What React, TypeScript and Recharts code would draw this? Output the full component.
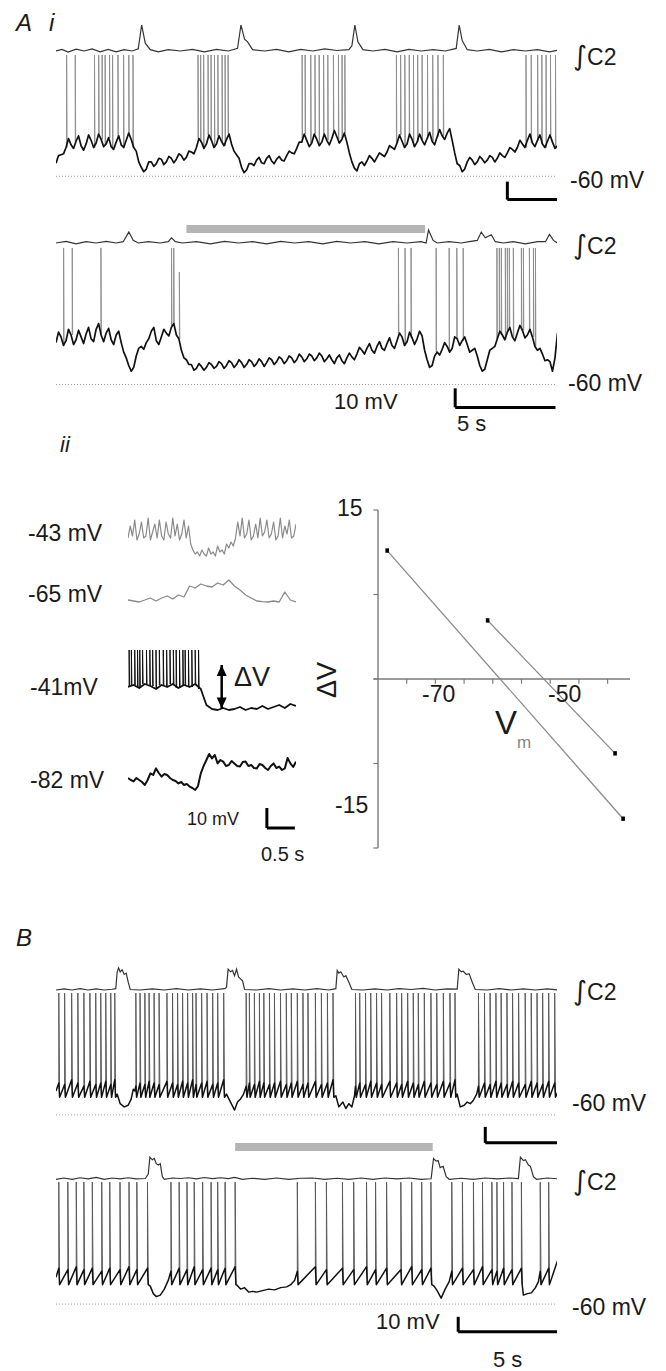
import React from 'react';
import { ComposedChart, Line, XAxis, YAxis, ReferenceLine, ReferenceArea } from 'recharts';

const FONT = '"Liberation Sans", Arial, Helvetica, sans-serif';

// ================= DATA =================
// Panel A i, top record: membrane potential (mV) sampled every 0.125 s
const DT = 0.125;
const a1Vm = [
  -52.8, -48.5, -48, -47.5, -44, -39, -42.5, -44.5, -40.5, -37.5,
  -43, -45.5, -42, -37, -40, -44, -41.5, -36.5, -39.5, -43.5,
  -42, -38.5, -43.5, -45, -41, -37.5, -42.5, -44, -40, -36,
  -39.5, -44, -46, -52, -55, -57.5, -56, -52, -52, -54.5,
  -53, -50, -50.5, -53.5, -52, -49, -50, -52.5, -50.5, -47.5,
  -48.5, -51, -49.5, -46, -46.5, -47.5, -44, -39, -41, -44.5,
  -42, -37, -40, -44, -42, -37.5, -40.5, -43, -39.5, -36.5,
  -42, -46, -48, -50, -55, -58, -56.5, -53, -53, -54,
  -51, -49.5, -52.5, -53, -50, -48.5, -51.5, -53, -50.5, -49,
  -51, -51.5, -48.5, -46, -47, -47.5, -44.5, -41, -41, -36.5,
  -40, -43.5, -41.5, -36.5, -39.5, -43, -41, -36.5, -40, -42.5,
  -39, -34.5, -38, -41.5, -39.5, -36, -41, -47, -52, -55.5,
  -57, -53, -52, -54, -51.5, -48.5, -50, -52, -49.5, -47,
  -48, -49, -46.5, -43, -44, -45, -41.5, -37, -40.5, -44,
  -42, -36.5, -39.5, -43.5, -41, -36.5, -40, -42.5, -39, -35.5,
  -40.5, -42.5, -38, -34, -37.5, -39.5, -36, -33.5, -40, -47,
  -53, -54, -57.5, -56, -52, -49.5, -51, -53.5, -52, -49,
  -50.5, -52.5, -51, -48.5, -49.5, -52, -50, -47, -48.5, -49.5,
  -47, -44, -45, -46.5, -44, -40, -42, -44, -40, -36.5,
  -41.5, -43.5, -40, -37, -42, -44, -40.5, -37, -41, -44.5,
  -43,
];
const a1Spikes = [
  0.53, 0.96, 1.92, 2.13, 2.3, 2.45, 2.67, 2.82, 3.09, 3.37, 3.63, 3.84,
  7.08, 7.21, 7.36, 7.58, 7.73, 7.9, 8.07, 8.28, 8.43, 8.58,
  12.27, 12.42, 12.7, 12.91, 13.12, 13.34, 13.55, 13.83, 14.08, 14.26, 14.4,
  16.97, 17.18, 17.39, 17.61, 17.82, 18.03, 18.25, 18.52, 18.78, 19.04, 19.31,
  23.43, 23.69, 24.01, 24.22, 24.43, 24.65, 24.9,
];
const a1SpikePeak = [7.5];
const a1C2 = [
  [0, 0], [0.3, 0.06], [0.6, -0.04], [1, 0.07], [1.4, 0], [1.8, 0.08], [2.2, -0.03], [2.6, 0.06], [3, -0.03], [3.4, 0.05],
  [3.8, 0], [4.1, 0.08], [4.27, 1.0], [4.45, 0.3], [4.7, 0.05], [5.1, -0.03], [5.6, 0.05], [6.2, 0], [6.8, 0.06], [7.4, -0.03],
  [8, 0.06], [8.6, 0], [9.05, 0.1], [9.22, 1.0], [9.4, 0.45], [9.55, 0.35], [9.8, 0.05], [10.4, 0], [11, 0.06], [11.6, -0.03],
  [12.2, 0.06], [12.8, 0], [13.4, 0.08], [14, 0.02], [14.6, 0.05], [14.75, 0.2], [14.9, 1.0], [15.05, 0.35], [15.3, 0.05], [15.8, 0],
  [16.4, 0.06], [17, -0.03], [17.6, 0.06], [18.2, 0], [18.8, 0.05], [19.4, 0], [19.95, 0.1], [20.1, 1.0], [20.25, 0.4], [20.5, 0.05],
  [21, 0], [21.6, 0.06], [22.2, -0.03], [22.8, 0.05], [23.4, 0], [24, 0.05], [24.6, -0.03], [25, 0.03],
];
const a1ScaleBar = [22.5, -73, 2.6, 10]; // t, mV, length s, length mV

// Panel A i, bottom record (with drug bar), sampled every 0.125 s
const a2Vm = [
  -38, -32.5, -35, -39.5, -37, -31, -34, -39, -36.5, -31.5,
  -35, -38.5, -33.5, -30, -36, -37.5, -31, -28, -34, -37.5,
  -33, -30.5, -36.5, -39, -34, -32, -38, -43, -46, -50,
  -53, -51, -45, -41, -40, -41.5, -38, -36, -32, -30,
  -37, -39, -35, -31, -33, -34.5, -30, -28, -34, -36,
  -42, -46, -47, -49.5, -49.5, -52.5, -51.5, -49, -50.5, -52.5,
  -51, -48.5, -49.5, -51.5, -50.5, -48, -49, -51.5, -50, -47.5,
  -48.5, -51, -49.5, -47, -48.5, -51, -49.5, -47, -48, -50.5,
  -49, -46.5, -48, -50.5, -48.5, -46, -47, -49.5, -48, -45.5,
  -46.5, -49, -47.5, -45, -46, -48.5, -47, -44, -45.5, -48,
  -46.5, -44, -45, -47.5, -46, -43.5, -45, -48, -46.5, -44.5,
  -47, -49, -46, -44.5, -47.5, -49, -46, -43.5, -45.5, -47,
  -44, -40.5, -42, -44, -41, -38.5, -42, -43.5, -40, -37.5,
  -41, -42, -38.5, -35.5, -39.5, -41, -37, -33, -35, -39.5,
  -37.5, -32.5, -35.5, -39, -36, -32, -34.5, -42, -47, -51,
  -50, -45, -43, -44.5, -41.5, -38, -40, -43, -41, -35,
  -36, -39.5, -37, -35, -39, -43, -42, -41, -45, -50,
  -53, -52, -47, -42, -41, -40, -36, -32, -34, -36.5,
  -32.5, -30, -35, -37, -33, -29, -31.5, -35.5, -34, -31,
  -35, -40, -42, -41, -44, -47.5, -47, -48, -53, -46,
  -33,
];
const a2Spikes = [
  0.38, 0.81, 2.24, 5.76, 5.87, 17.07, 17.4, 17.7, 18.95, 19.6, 19.98, 20.3,
  21.98, 22.1, 22.2, 22.4, 22.5, 22.6, 22.8, 23.2, 23.3, 23.6, 23.8, 23.9,
];
const a2SpikePeak = [11.7];
const a2ShortSpikes = [6.15];
const a2ShortPeak = [-1];
const a2C2 = [
  [0, 0], [0.5, 0.06], [1, -0.03], [1.5, 0.05], [2, 0], [2.5, 0.06], [3, 0], [3.35, 0.05], [3.63, 0.42], [3.85, 0.1],
  [4.1, 0], [4.6, 0.05], [5.2, 0], [5.6, 0.05], [5.76, 0.2], [5.95, 0.05], [6.3, 0], [7, 0.05], [7.7, -0.03], [8.4, 0.06],
  [9.1, 0], [9.8, 0.05], [10.5, -0.03], [11.2, 0.06], [11.9, 0], [12.6, 0.05], [13.3, -0.03], [14, 0.06], [14.7, 0], [15.4, 0.05],
  [16.1, -0.03], [16.8, 0.05], [17.5, 0], [18.2, 0.05], [18.45, 0], [18.57, 0.5], [18.8, 0.1], [19, 0], [19.6, 0.05], [20.2, 0],
  [20.6, 0.05], [21, 0.1], [21.2, 0.42], [21.4, 0.2], [21.7, 0.32], [21.9, 0.05], [22.3, 0], [22.8, 0.05], [23.4, -0.03], [24, 0.05],
  [24.4, 0.05], [24.6, 0.33], [24.8, 0.1], [25, 0],
];
const a2DrugBar = [6.5, 18.4, 19.5, 23.8]; // t start, t end, mV low, mV high
const a2ScaleBar = [19.9, -72, 5, 10];

// Panel A ii: small traces (mV relative to holding level)
const s43Vm = [
  0, 6, 1, 9, -1, 2, 8, 0, 1, 10, -1, 3, 7, 0, 9, 1, -1, 8, 2, 0, 10, 1, 7, -1, 2, 9, 0, 6,
  -3, -6, -8, -7, -9, -6, -8, -9, -5, -8, -7, -9, -4, -7, -6, -8, -3, -5, -2, -4,
  0, 8, 1, 10, 0, 2, 9, -1, 1, 7, 0, 10, 1, 3, 9, 0, 2, 8, -1, 1, 10, 0, 6, 2, 9, 0, 1, 7,
];
const s65Vm = [
  -1, -1.5, -2, -1, 0, -1.5, 0, 1, -0.5, 1.5, 0.5, 6, 5, 7, 6, 5.5, 7.5, 6.5, 9, 6, 4, 1.5, 0, -1.5, -1.8, -2, -1.5, -2, 3, -1, -2,
];
const s41Base = [
  0, 1, -0.5, 1.5, 0.5, -1, 1, 0, 1.5, -0.5, 1, 0, 1.5, -1, -9, -11, -11.5, -10.5, -11.5, -11, -10, -11.5, -10.5, -11, -9.5, -11, -10, -9, -10.5, -8.5, -9.5,
];
const s41Spikes = [
  0.02, 0.06, 0.12, 0.17, 0.21, 0.26, 0.33, 0.39, 0.44, 0.5, 0.56, 0.63, 0.69, 0.75, 0.81, 0.86, 0.92, 0.98, 1.02, 1.08, 1.14, 1.2, 1.26,
];
const s41SpikePeak = [18.5];
const s82Vm = [
  0, -1, -1.7, 0, -1, -2, -3.5, -1, 2.3, 1.5, 4.8, 2.5, 0.7, 2, 1.5, 0, -1, -1.5, -2.7, -2, -3.5,
  -3, -4.3, -5, -6, -4, 2.3, 6, 9, 12, 9.8, 11.5, 7.3, 9, 8.2, 6, 6.5, 8.5, 7.3, 6, 5.7,
  8, 8.2, 6, 6.5, 5, 4.8, 7, 6.5, 5, 4, 6, 7.3, 5, 5.7, 4, 4.8, 10, 7.3, 5.5, 8.2,
];
const deltaVArrow = [[1.673, 11], [1.673, -10.7]];
const smallScaleBar = [2.48, -25, 0.5, 10];

// Panel A ii: ΔV versus Vm
const ivVm1 = [-83.4, -42.3];
const ivDv1 = [11.4, -12.4];
const ivVm2 = [-65.9, -43.7];
const ivDv2 = [5.2, -6.6];
const ivXTicks = [-80, -75, -70, -65, -60, -55, -50, -45];
const ivYTicks = [15, 7.5, 0, -7.5, -15];
const ivAxisOrigin = [-85, -15, 15]; // y axis at Vm, from ΔV, to ΔV

// Panel B, top record: spikes [time s, foot mV]
const b1Spikes = [
  [0.14, -40], [0.43, -41], [0.78, -38], [1.09, -40], [1.39, -42], [1.69, -39], [1.98, -41], [2.23, -40], [2.48, -39], [2.73, -41], [2.93, -38],
  [3.98, -42], [4.19, -40], [4.43, -41], [4.64, -39], [4.89, -40], [5.14, -41], [5.53, -39], [5.81, -40], [6.06, -41], [6.31, -39], [6.56, -40],
  [6.81, -38], [6.98, -41], [7.26, -40], [7.53, -39], [7.81, -41], [8.06, -40], [8.36, -38],
  [9.48, -42], [9.64, -40], [9.89, -41], [10.14, -39], [10.36, -40], [10.64, -41], [10.89, -40], [11.19, -39], [11.48, -41], [11.73, -40],
  [12.03, -39], [12.31, -41], [12.56, -40], [12.93, -39], [13.23, -41], [13.53, -40], [13.81, -38],
  [14.93, -42], [15.14, -40], [15.43, -41], [15.69, -39], [15.98, -40], [16.23, -41], [16.64, -39], [16.98, -40], [17.23, -41], [17.53, -39],
  [17.81, -40], [18.06, -41], [18.36, -39], [18.69, -40], [18.98, -41], [19.31, -39], [19.64, -40], [19.89, -38],
  [21.06, -42], [21.36, -40], [21.64, -41], [21.93, -39], [22.19, -40], [22.48, -41], [22.76, -39], [23.06, -40], [23.39, -41], [23.69, -39],
  [23.98, -40], [24.26, -41], [24.56, -39], [24.86, -40],
];
const b1Levels = [16.3, -49]; // spike peak, after-hyperpolarisation trough
const b1Gaps = [
  [0, -45], [3.05, -47], [3.2, -53], [3.4, -55], [3.6, -54], [3.75, -50], [3.85, -44], [3.93, -45],
  [8.5, -47], [8.7, -52], [8.9, -57], [9.05, -52], [9.2, -50], [9.35, -47],
  [13.95, -48], [14.1, -55], [14.3, -52], [14.45, -56], [14.6, -53], [14.75, -55], [14.88, -48],
  [20.0, -47], [20.15, -55], [20.35, -54], [20.5, -52], [20.65, -53], [20.8, -51], [20.97, -47], [25, -46],
];
const b1C2 = [
  [0, 0], [0.4, 0.04], [0.8, 0], [1.2, 0.05], [1.6, 0], [2, 0.04], [2.4, 0], [2.8, 0.03], [2.98, 0.05], [3.05, 0.7],
  [3.12, 0.85], [3.2, 0.7], [3.3, 0.78], [3.4, 0.6], [3.5, 0.65], [3.6, 0.3], [3.7, 0.02], [4.2, 0], [4.8, 0.04], [5.4, 0],
  [6, 0.05], [6.6, 0], [7.2, 0.04], [7.8, 0], [8.4, 0.05], [8.5, 0.1], [8.58, 0.8], [8.7, 0.7], [8.8, 0.75], [8.9, 0.55],
  [9.0, 0.8], [9.1, 0.5], [9.3, 0.35], [9.4, 0.02], [10, 0], [10.6, 0.05], [11.2, 0], [11.8, 0.04], [12.4, 0], [13, 0.05],
  [13.6, 0], [13.95, 0.05], [14.02, 0.75], [14.1, 0.65], [14.2, 0.7], [14.35, 0.5], [14.45, 0.55], [14.6, 0.3], [14.75, 0.02], [15.3, 0],
  [15.9, 0.04], [16.5, 0], [17.1, 0.05], [17.7, 0.02], [18.3, 0.06], [18.9, 0], [19.5, 0.04], [20.0, 0.03], [20.08, 0.8], [20.2, 0.7],
  [20.3, 0.72], [20.45, 0.6], [20.6, 0.62], [20.75, 0.3], [20.9, 0.02], [21.5, 0], [22.1, 0.05], [22.7, 0], [23.3, 0.04], [23.9, 0],
  [24.5, 0.04], [25, 0],
];
const b1ScaleBar = [21.4, -77.5, 3.65, 10];

// Panel B, bottom record (with drug bar)
const b2Spikes = [
  [0.14, -36], [0.59, -37], [1.01, -35], [1.39, -37], [1.81, -36], [2.28, -38], [2.68, -36], [3.19, -37], [3.64, -35], [4.03, -37], [4.56, -36],
  [5.73, -38], [6.14, -36], [6.53, -37], [6.89, -35], [7.31, -37], [7.73, -36], [8.06, -37], [8.43, -36], [8.93, -35],
  [12.03, -38], [12.93, -35], [13.48, -37], [14.28, -36], [14.84, -37], [15.48, -35], [15.93, -37], [16.48, -36], [17.19, -37], [17.73, -35],
  [18.23, -37], [18.69, -36],
  [19.73, -38], [20.26, -36], [20.81, -37], [21.26, -35], [21.73, -37], [21.98, -38], [22.31, -36], [22.73, -37], [23.2, -36],
  [24.14, -38], [24.56, -36],
];
const b2Levels = [21.5, -47];
const b2Gaps = [
  [0, -42], [4.7, -48], [4.85, -53], [5.0, -55], [5.2, -54], [5.4, -50], [5.6, -44],
  [9.0, -47], [9.2, -50], [9.4, -49], [9.6, -52], [9.8, -51.5], [10.0, -52], [10.3, -51], [10.6, -50], [10.9, -50.5], [11.2, -49],
  [11.5, -48.5], [11.7, -47], [11.9, -44],
  [18.85, -48], [19.0, -51], [19.2, -56], [19.4, -50], [19.6, -45],
  [23.3, -54], [23.5, -53], [23.7, -52.5], [23.9, -49], [24.05, -45], [25, -31],
];
const b2C2 = [
  [0, 0], [0.4, 0.05], [0.8, 0], [1.2, 0.06], [1.6, 0.02], [2, 0.07], [2.4, 0], [2.8, 0.05], [3.2, 0.02], [3.6, 0.06],
  [4, 0.02], [4.45, 0.03], [4.6, 0.2], [4.68, 0.85], [4.8, 0.75], [4.9, 0.8], [5.0, 0.6], [5.1, 0.55], [5.2, 0.6], [5.3, 0.1],
  [5.4, 0], [5.8, 0.05], [6.2, 0.03], [6.6, 0.06], [7, 0.02], [7.4, 0.07], [7.8, 0.03], [8.2, 0.06], [8.6, 0.03], [8.9, 0.07],
  [9.3, 0], [9.8, 0.04], [10.4, 0], [11, 0.05], [11.6, 0], [12.2, 0.04], [12.8, 0.05], [13.4, 0], [14, 0.04], [14.6, 0],
  [15.2, 0.05], [15.8, 0], [16.4, 0.05], [17, 0.02], [17.6, 0.05], [18.2, 0], [18.7, 0.02], [18.82, 0.8], [18.95, 0.7], [19.05, 0.72],
  [19.15, 0.45], [19.3, 0.5], [19.45, 0.1], [19.6, 0], [20.2, 0.04], [20.8, 0], [21.4, 0.05], [22, 0.02], [22.6, 0.05], [23.05, 0.03],
  [23.15, 0.85], [23.3, 0.72], [23.4, 0.75], [23.55, 0.55], [23.65, 0.5], [23.8, 0.1], [23.95, 0], [24.5, 0.05], [25, 0.02],
];
const b2DrugBar = [8.93, 18.78, 42.3, 47.7];
const b2ScaleBar = [20.05, -78.5, 5, 10];

// ================= HELPERS =================
type P = { t: number; v: number | null };
const uniform = (vals: number[], dt: number): P[] => vals.map((v, i) => ({ t: Math.round(i * dt * 1000) / 1000, v }));
const pairs = (arr: number[][]): P[] => arr.map(([t, v]) => ({ t, v }));
const footAt = (vals: number[], dt: number, t: number) => vals[Math.min(vals.length - 1, Math.round(t / dt))];
const spikeLines = (times: number[], peak: number, vals: number[], dt: number, w = 0.02): P[] =>
  times.flatMap((t) => {
    const f = footAt(vals, dt, t);
    return [{ t, v: f }, { t, v: peak }, { t: t + w, v: f }, { t: t + w, v: null }];
  });
const LAG = 0.04;
const sawBase = (spikes: number[][], gaps: number[][], trough: number): P[] => {
  const pts: P[] = [];
  spikes.forEach(([t, f]) => { pts.push({ t, v: f }); pts.push({ t: t + LAG, v: trough }); });
  gaps.forEach(([t, v]) => pts.push({ t, v }));
  return pts.sort((a, b) => a.t - b.t);
};
const sawSpikes = (spikes: number[][], peak: number, trough: number): P[] =>
  spikes.flatMap(([t, f]) => [{ t, v: f }, { t, v: peak }, { t: t + LAG, v: trough }, { t: t + LAG, v: null }]);

// ================= COMPONENTS =================
const Txt = ({ x, cy, size = 23, italic = false, color = '#1a1a1a', children }: any) => (
  <div style={{ position: 'absolute', left: x, top: cy - size / 2, fontSize: size, lineHeight: `${size}px`, fontFamily: FONT, fontStyle: italic ? 'italic' : 'normal', color, whiteSpace: 'nowrap' }}>
    {children}
  </div>
);

const C2Label = ({ x, cy }: any) => (
  <Txt x={x} cy={cy}>
    <span style={{ fontSize: 27, fontFamily: '"DejaVu Sans", "Liberation Sans", sans-serif' }}>∫</span>C2
  </Txt>
);

function Trace(props: any) {
  const { left, top, width, height, tDomain, vDomain, c2Domain, c2, base, spikes, baseColor = '#111', baseWidth = 1.6, spikeColor = '#8f8f8f', spikeWidth = 1, dotted, bar, scale, extra } = props;
  return (
    <div style={{ position: 'absolute', left, top, width, height }}>
      <ComposedChart width={width} height={height} margin={{ top: 0, right: 0, bottom: 0, left: 0 }}>
        <XAxis type="number" dataKey="t" domain={tDomain} hide allowDataOverflow height={0} />
        <YAxis yAxisId="v" type="number" dataKey="v" domain={vDomain} hide allowDataOverflow width={0} />
        {c2Domain && <YAxis yAxisId="c2" type="number" dataKey="v" domain={c2Domain} hide allowDataOverflow width={0} />}
        {dotted && <ReferenceLine yAxisId="v" y={-60} stroke="#a0a0a0" strokeWidth={1} strokeDasharray="1 2" />}
        {bar && <ReferenceArea yAxisId="v" x1={bar[0]} x2={bar[1]} y1={bar[2]} y2={bar[3]} fill="#b5b5b5" fillOpacity={1} stroke="none" />}
        {c2 && <Line yAxisId="c2" data={c2} dataKey="v" stroke="#333" strokeWidth={1.2} dot={false} isAnimationActive={false} />}
        {spikes && <Line yAxisId="v" data={spikes} dataKey="v" stroke={spikeColor} strokeWidth={spikeWidth} dot={false} isAnimationActive={false} connectNulls={false} />}
        <Line yAxisId="v" data={base} dataKey="v" stroke={baseColor} strokeWidth={baseWidth} dot={false} isAnimationActive={false} strokeLinejoin="round" />
        {scale && <ReferenceLine yAxisId="v" ifOverflow="visible" segment={[{ x: scale[0], y: scale[1] }, { x: scale[0], y: scale[1] + scale[3] }]} stroke="#000" strokeWidth={3} />}
        {scale && <ReferenceLine yAxisId="v" ifOverflow="visible" segment={[{ x: scale[0], y: scale[1] }, { x: scale[0] + scale[2], y: scale[1] }]} stroke="#000" strokeWidth={3} />}
        {extra}
      </ComposedChart>
    </div>
  );
}

const arrowHead = (p: any) => {
  const { cx, cy, index } = p;
  if (cx == null || cy == null) return <g key={index} />;
  const up = index === 0;
  const pts = up
    ? `${cx},${cy} ${cx - 5},${cy + 11} ${cx + 5},${cy + 11}`
    : `${cx},${cy} ${cx - 5},${cy - 11} ${cx + 5},${cy - 11}`;
  return <polygon key={`ah${index}`} points={pts} fill="#000" />;
};

const squareDot = (p: any) => {
  const { cx, cy, index } = p;
  if (cx == null || cy == null) return <g key={index} />;
  return <rect key={`sq${index}`} x={cx - 1.8} y={cy - 2.2} width={3.6} height={4.4} fill="#000" />;
};

export default function App() {
  const a1Base = uniform(a1Vm, DT);
  const a1Sp = spikeLines(a1Spikes, a1SpikePeak[0], a1Vm, DT);
  const a2Base = uniform(a2Vm, DT);
  const a2Sp = [...spikeLines(a2Spikes, a2SpikePeak[0], a2Vm, DT), ...spikeLines(a2ShortSpikes, a2ShortPeak[0], a2Vm, DT)];
  const b1Base = sawBase(b1Spikes, b1Gaps, b1Levels[1]);
  const b1Sp = sawSpikes(b1Spikes, b1Levels[0], b1Levels[1]);
  const b2Base = sawBase(b2Spikes, b2Gaps, b2Levels[1]);
  const b2Sp = sawSpikes(b2Spikes, b2Levels[0], b2Levels[1]);

  const ivLine1 = ivVm1.map((x, i) => ({ x, y: ivDv1[i] }));
  const ivLine2 = ivVm2.map((x, i) => ({ x, y: ivDv2[i] }));
  const arrowData = pairs(deltaVArrow);
  const [ax, ay0, ay1] = ivAxisOrigin;

  return (
    <div style={{ position: 'absolute', left: 0, top: 0, width: 666, height: 1371, background: '#fff', overflow: 'hidden' }}>
      {/* ---------- A i ---------- */}
      <Txt x={16} cy={23} size={24} italic>A</Txt>
      <Txt x={49} cy={23} size={24} italic>i</Txt>
      <Trace left={55.5} top={20} width={501.5} height={185} tDomain={[0, 25]} vDomain={[-76, 27]} c2Domain={[-5.923, 1.192]}
        c2={pairs(a1C2)} base={a1Base} spikes={a1Sp} baseWidth={1.7} dotted scale={a1ScaleBar} />
      <C2Label x={573} cy={55} />
      <Txt x={570} cy={180}>-60 mV</Txt>

      <Trace left={55.5} top={215} width={501.5} height={200} tDomain={[0, 25]} vDomain={[-76, 29]} c2Domain={[-6.615, 1.077]}
        c2={pairs(a2C2)} base={a2Base} spikes={a2Sp} baseWidth={1.7} dotted bar={a2DrugBar} scale={a2ScaleBar} />
      <C2Label x={573} cy={244} />
      <Txt x={568} cy={383}>-60 mV</Txt>
      <Txt x={334} cy={402} size={22}>10 mV</Txt>
      <Txt x={457} cy={424} size={22}>5 s</Txt>

      {/* ---------- A ii ---------- */}
      <Txt x={60} cy={445} size={22} italic>ii</Txt>
      <Txt x={28} cy={533}>-43 mV</Txt>
      <Txt x={28} cy={594}>-65 mV</Txt>
      <Txt x={30} cy={687}>-41mV</Txt>
      <Txt x={30} cy={780}>-82 mV</Txt>

      <Trace left={128} top={510} width={168} height={50} tDomain={[0, 3]} vDomain={[-11, 14]}
        base={uniform(s43Vm, 0.04)} baseColor="#8a8a8a" baseWidth={1.2} />
      <Trace left={128} top={575} width={168} height={35} tDomain={[0, 3]} vDomain={[-6, 11.5]}
        base={uniform(s65Vm, 0.1)} baseColor="#8a8a8a" baseWidth={1.3} />
      <Trace left={128} top={640} width={168} height={80} tDomain={[0, 3]} vDomain={[-16.5, 23.5]}
        base={uniform(s41Base, 0.1)} spikes={spikeLines(s41Spikes, s41SpikePeak[0], s41Base, 0.1, 0.01)} spikeColor="#111" baseWidth={1.8}
        extra={<Line yAxisId="v" data={arrowData} dataKey="v" stroke="#000" strokeWidth={2.5} dot={arrowHead} isAnimationActive={false} />} />
      <Trace left={128} top={745} width={168} height={90} tDomain={[0, 3]} vDomain={[-28.5, 16.5]}
        base={uniform(s82Vm, 0.05)} baseWidth={2} scale={smallScaleBar} />
      <Txt x={234} cy={677} size={27}>ΔV</Txt>
      <Txt x={187} cy={819} size={18}>10 mV</Txt>
      <Txt x={261} cy={854} size={20}>0.5 s</Txt>

      {/* ΔV vs Vm graph */}
      <div style={{ position: 'absolute', left: 341, top: 500, width: 300, height: 360 }}>
        <ComposedChart width={300} height={360} margin={{ top: 10, right: 11, bottom: 12, left: 37 }}>
          <XAxis type="number" dataKey="x" domain={[-85, -41.1]} hide allowDataOverflow height={0} />
          <YAxis type="number" dataKey="y" domain={[-15, 15]} hide allowDataOverflow width={0} />
          <ReferenceLine segment={[{ x: ax, y: ay0 }, { x: ax, y: ay1 }]} ifOverflow="visible" stroke="#7a7a7a" strokeWidth={1.4} />
          {ivYTicks.map((v) => (
            <ReferenceLine key={`y${v}`} segment={[{ x: ax - 0.8, y: v }, { x: ax, y: v }]} ifOverflow="visible" stroke="#7a7a7a" strokeWidth={1.2} />
          ))}
          <ReferenceLine segment={[{ x: -85.8, y: 0 }, { x: -41.1, y: 0 }]} ifOverflow="visible" stroke="#7a7a7a" strokeWidth={1.4} />
          {ivXTicks.map((v) => (
            <ReferenceLine key={v} segment={[{ x: v, y: 0 }, { x: v, y: -0.42 }]} ifOverflow="visible" stroke="#7a7a7a" strokeWidth={1.2} />
          ))}
          <Line data={ivLine1} dataKey="y" stroke="#8a8a8a" strokeWidth={1.3} dot={squareDot} isAnimationActive={false} />
          <Line data={ivLine2} dataKey="y" stroke="#8a8a8a" strokeWidth={1.3} dot={squareDot} isAnimationActive={false} />
        </ComposedChart>
      </div>
      <Txt x={337} cy={508}>15</Txt>
      <Txt x={335} cy={805}>-15</Txt>
      <Txt x={422} cy={694}>-70</Txt>
      <Txt x={548} cy={694}>-50</Txt>
      <Txt x={495} cy={722} size={33}>V</Txt>
      <Txt x={517} cy={742} size={17} color="#888">m</Txt>
      <div style={{ position: 'absolute', left: 327, top: 680, width: 0, height: 0 }}>
        <div style={{ position: 'absolute', left: -30, top: -14, width: 60, height: 28, lineHeight: '28px', textAlign: 'center', fontSize: 27, fontFamily: FONT, color: '#1a1a1a', transform: 'rotate(-90deg)' }}>ΔV</div>
      </div>

      {/* ---------- B ---------- */}
      <Txt x={16} cy={938} size={24} italic>B</Txt>
      <Trace left={55.5} top={960} width={501.5} height={190} tDomain={[0, 25]} vDomain={[-82, 37]} c2Domain={[-6.154, 1.154]}
        c2={pairs(b1C2)} base={b1Base} spikes={b1Sp} spikeColor="#5a5a5a" baseWidth={1.5} dotted scale={b1ScaleBar} />
      <C2Label x={573} cy={990} />
      <Txt x={572} cy={1103}>-60 mV</Txt>

      <Trace left={55.5} top={1135} width={501.5} height={205} tDomain={[0, 25]} vDomain={[-84, 53]} c2Domain={[-6.181, 1.704]}
        c2={pairs(b2C2)} base={b2Base} spikes={b2Sp} spikeColor="#5a5a5a" baseWidth={1.5} dotted bar={b2DrugBar} scale={b2ScaleBar} />
      <C2Label x={573} cy={1180} />
      <Txt x={572} cy={1307}>-60 mV</Txt>
      <Txt x={376} cy={1322} size={22}>10 mV</Txt>
      <Txt x={493} cy={1360} size={22}>5 s</Txt>
    </div>
  );
}
